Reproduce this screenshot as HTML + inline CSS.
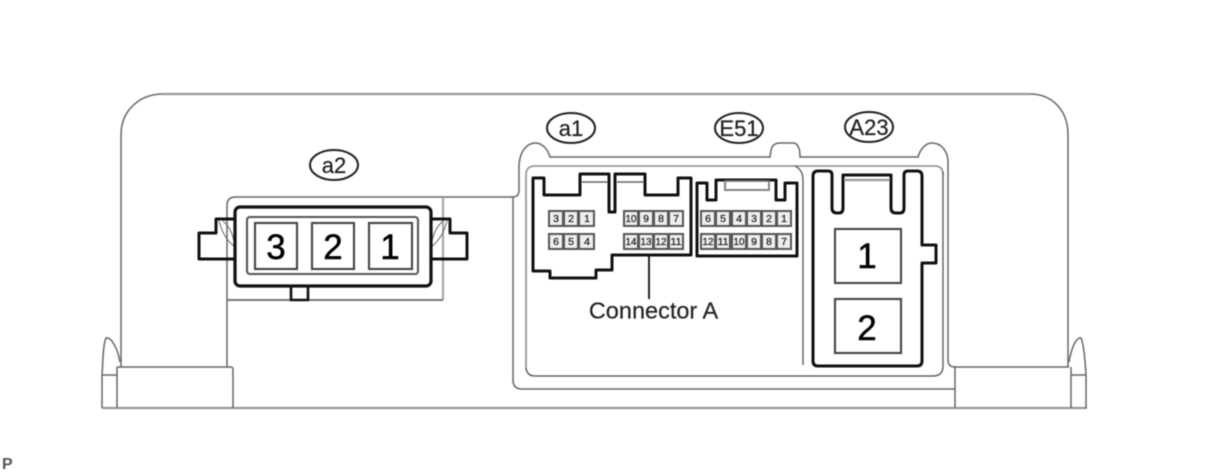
<!DOCTYPE html>
<html><head><meta charset="utf-8">
<style>
html,body{margin:0;padding:0;background:#fff;width:1210px;height:474px;overflow:hidden}
svg{display:block;filter:blur(0.55px)}
text{font-family:"Liberation Sans",sans-serif}
.g{fill:none;stroke:#666;stroke-width:1.5}
.l{fill:none;stroke:#999;stroke-width:2.2}
.d{fill:none;stroke:#111;stroke-width:3;stroke-linejoin:round}
.m{fill:none;stroke:#444;stroke-width:2.1}
.bg{fill:#555}
.c{fill:#eee}
.s{font-size:10.5px;fill:#222;text-anchor:middle;stroke:#222;stroke-width:.25}
.big{font-size:35px;fill:#000;text-anchor:middle;stroke:#000;stroke-width:.5}
.lab{font-size:22px;fill:#222;text-anchor:middle;stroke:#222;stroke-width:.25}
</style></head><body>
<svg width="1210" height="474" viewBox="0 0 1210 474" xmlns="http://www.w3.org/2000/svg">
<!-- housing -->
<path class="l" d="M163 94H1030"/>
<path class="g" d="M121 367V135C121 110 140 94 163 94"/>
<path class="g" d="M1068 367V135C1068 110 1052 94 1030 94"/>
<path class="l" d="M102 408H1087"/>
<path class="g" d="M117 367H231Q233 367 233 370V408"/>
<path class="g" d="M955 408V367H1069"/>
<path class="g" d="M102 408V375C103 360 103 345 106 338C110 337 117 345 120 362"/>
<path class="g" d="M102 375H117M117 367V408"/>
<path class="g" d="M1086 408V375C1085 360 1084 345 1081 338C1077 337 1072 345 1069 362"/>
<path class="g" d="M1071 375H1086M1071 367V408"/>
<!-- a2 panel -->
<path class="g" d="M227 367V205Q227 197 236 197H513"/>
<path class="l" style="stroke-width:1.8" d="M443 197V300"/>
<path class="g" style="stroke-width:1.8" d="M227 300H443"/>
<!-- right panel -->
<path class="g" d="M513 197V380Q513 389 522 389H955"/>
<path class="g" d="M513 197Q519 197 519 190V165C520 150 528 143 535 143C543 143 548 150 550 157H770C771 148 772 143 780 143H793C799 143 800 150 800 157H918C920 150 925 143 932 143C942 143 948 152 948 162V360Q948 367 955 367"/>
<path class="l" style="stroke-width:1.8" d="M526 370V175Q526 166 535 166H935Q943 166 943 175"/>
<path class="g" d="M526 368Q527 376 535 376H933Q943 376 943 366V172"/>
<path class="g" d="M795 166Q803 170 803 180V365"/>
<!-- a2 connector -->
<path class="d" d="M235 219H216V233H199V259H235"/>
<path class="d" d="M431 219H450V233H467V259H431"/>
<path class="g" style="stroke-width:1" d="M219 221C222 232 226 240 235 247M223 221C231 228 233 236 235 245"/>
<path class="g" style="stroke-width:1" d="M447 221C444 232 440 240 431 247M443 221C435 228 433 236 431 245"/>
<rect x="235" y="207" width="196" height="79" rx="5" fill="#fff" stroke="#111" stroke-width="3.2"/>
<rect x="247" y="217" width="171" height="57" rx="3" class="m" style="fill:#fff;stroke:#555"/>
<path class="d" d="M291 286V300H308V286" style="stroke-width:2.6"/>
<rect x="255" y="223" width="42" height="46" class="m"/>
<rect x="312" y="223" width="42" height="46" class="m"/>
<rect x="369" y="223" width="43" height="46" class="m"/>
<text class="big" x="276" y="259">3</text>
<text class="big" x="333" y="259">2</text>
<text class="big" x="390" y="259">1</text>
<!-- a1 connector -->
<path class="d" d="M533 178H544V195H580V174H609V212H615V174H645V195H678V178H691V255H612V270H596V278H550V271H533Z"/>
<path class="g" d="M582 182H608M617 182H644"/>
<path fill="none" stroke="#111" stroke-width="1.8" d="M649 255V299"/>
<rect class="bg" x="548" y="210" width="47" height="17"/>
<rect class="bg" x="548" y="233" width="47" height="17"/>
<rect class="bg" x="623" y="210" width="61" height="17"/>
<rect class="bg" x="623" y="233" width="61" height="17"/>
<rect class="bg" x="700" y="210" width="92" height="17"/>
<rect class="bg" x="700" y="233" width="92" height="17"/>
<path class="c" d="M550 212h12v13h-12zM565 212h12v13h-12zM580 212h13v13h-13zM550 235h12v13h-12zM565 235h12v13h-12zM580 235h13v13h-13zM625 212h12v13h-12zM640 212h12v13h-12zM655 212h12v13h-12zM670 212h12v13h-12zM625 235h12v13h-12zM640 235h12v13h-12zM655 235h12v13h-12zM670 235h12v13h-12zM702 212h12v13h-12zM717 212h12v13h-12zM733 212h12v13h-12zM748 212h12v13h-12zM763 212h12v13h-12zM778 212h12v13h-12zM702 235h12v13h-12zM717 235h12v13h-12zM733 235h12v13h-12zM748 235h12v13h-12zM763 235h12v13h-12zM778 235h12v13h-12z"/>
<text class="s" x="556" y="222">3</text><text class="s" x="571" y="222">2</text><text class="s" x="587" y="222">1</text>
<text class="s" x="556" y="245">6</text><text class="s" x="571" y="245">5</text><text class="s" x="587" y="245">4</text>
<text class="s" x="631" y="222" textLength="11" lengthAdjust="spacingAndGlyphs">10</text><text class="s" x="646" y="222">9</text><text class="s" x="661" y="222">8</text><text class="s" x="676" y="222">7</text>
<text class="s" x="631" y="245" textLength="11" lengthAdjust="spacingAndGlyphs">14</text><text class="s" x="646" y="245" textLength="11" lengthAdjust="spacingAndGlyphs">13</text><text class="s" x="661" y="245" textLength="11" lengthAdjust="spacingAndGlyphs">12</text><text class="s" x="676" y="245" textLength="11" lengthAdjust="spacingAndGlyphs">11</text>
<!-- E51 connector -->
<path class="d" d="M697 183H707V200H716V180H776V200H785V183H797V256H697Z"/>
<rect x="725" y="181" width="44" height="9" fill="#fff" stroke="#777" stroke-width="1.8"/>
<text class="s" x="708" y="222">6</text><text class="s" x="723" y="222">5</text><text class="s" x="739" y="222">4</text><text class="s" x="754" y="222">3</text><text class="s" x="769" y="222">2</text><text class="s" x="784" y="222">1</text>
<text class="s" x="708" y="245" textLength="11" lengthAdjust="spacingAndGlyphs">12</text><text class="s" x="723" y="245" textLength="11" lengthAdjust="spacingAndGlyphs">11</text><text class="s" x="739" y="245" textLength="11" lengthAdjust="spacingAndGlyphs">10</text><text class="s" x="754" y="245">9</text><text class="s" x="769" y="245">8</text><text class="s" x="784" y="245">7</text>
<text x="653.500" y="318.500" font-size="23.500" fill="#222" stroke="#222" stroke-width=".2" text-anchor="middle">Connector A</text>
<!-- A23 connector -->
<path class="d" d="M813 176Q813 171 818 171H828Q832 171 832 175V208Q832 213 837 213H839Q843 213 843 208V175H891V208Q891 213 896 213H900Q904 213 904 208V175Q904 171 908 171H917Q922 171 922 176V245H936V263H922V361Q922 366 917 366H818Q813 366 813 361Z"/>
<path class="l" d="M844 180H890"/>
<rect x="835" y="229" width="66" height="54" class="m"/>
<rect x="835" y="299" width="66" height="54" class="m"/>
<text class="big" x="867" y="268">1</text>
<text class="big" x="867" y="340">2</text>
<!-- labels -->
<ellipse cx="334" cy="165" rx="24" ry="15" fill="#fff" stroke="#222" stroke-width="2"/>
<text class="lab" x="334" y="173">a2</text>
<ellipse cx="571" cy="128" rx="24" ry="15" fill="#fff" stroke="#222" stroke-width="2"/>
<text class="lab" x="571" y="136">a1</text>
<ellipse cx="739" cy="128" rx="24" ry="15" fill="#fff" stroke="#222" stroke-width="2"/>
<text class="lab" x="739" y="136">E51</text>
<ellipse cx="869" cy="127" rx="24" ry="15" fill="#fff" stroke="#222" stroke-width="2"/>
<text class="lab" x="869" y="135">A23</text>
<text x="2" y="469" font-size="16" font-weight="bold" fill="#555">P</text>
</svg>
</body></html>
